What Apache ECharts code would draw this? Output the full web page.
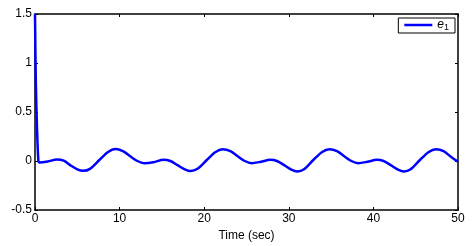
<!DOCTYPE html>
<html>
<head>
<meta charset="utf-8">
<script src="https://cdn.jsdelivr.net/npm/echarts@6/dist/echarts.min.js"></script>
<style>html,body{margin:0;padding:0;background:#fff}#c{width:472px;height:246px}</style>
</head>
<body>
<div id="c"></div>
<script>
var times = [0, 0.1, 0.25, 0.4, 0.5, 1.5, 2.6, 3.4, 4.2, 5.0, 5.7, 6.5, 7.6, 8.6, 9.5, 10.4, 11.3, 12.1, 12.9,
  14.0, 15.2, 16.0, 16.9, 17.7, 18.4, 19.2, 20.3, 21.3, 22.2, 23.1, 24.0, 24.8, 25.6,
  26.7, 27.8, 28.6, 29.5, 30.3, 31.0, 31.8, 32.9, 33.9, 34.8, 35.7, 36.6, 37.4, 38.2,
  39.3, 40.4, 41.2, 42.1, 42.9, 43.6, 44.4, 45.5, 46.5, 47.4, 48.3, 49.2, 50];
var e1 = [1.5, 0.8, 0.3, 0.0, -0.015, -0.005, 0.016, 0.003, -0.045, -0.085, -0.10, -0.08, 0.01, 0.09, 0.122, 0.1, 0.045, 0.0, -0.022,
  -0.012, 0.013, 0.0, -0.045, -0.085, -0.103, -0.08, 0.01, 0.09, 0.12, 0.1, 0.045, 0.0, -0.022,
  -0.008, 0.012, 0.0, -0.045, -0.088, -0.107, -0.085, 0.01, 0.09, 0.12, 0.1, 0.045, 0.0, -0.022,
  -0.008, 0.012, 0.0, -0.045, -0.088, -0.107, -0.085, 0.01, 0.09, 0.12, 0.1, 0.04, -0.008];
var xTicks = [0, 10, 20, 30, 40, 50];
var yTicks = [-0.5, 0, 0.5, 1, 1.5];
var seriesName = 'e1';

var font = 'Liberation Sans';
var chart = echarts.init(document.getElementById('c'), null, {renderer: 'canvas'});
var data = times.map(function (t, i) { return [t, e1[i]]; });
var axisLine = {show: true, onZero: false, lineStyle: {color: '#000', width: 1.5}};
var tick = {show: true, inside: true, length: 3, lineStyle: {color: '#000', width: 1}};
chart.setOption({
  animation: false,
  backgroundColor: '#fff',
  grid: {left: 35, right: 14, top: 14, bottom: 36, show: false, containLabel: false, outerBoundsMode: 'none'},
  legend: {
    data: [{name: seriesName, icon: 'rect'}],
    right: 17, top: 18,
    itemWidth: 28, itemHeight: 2.5, itemGap: 4,
    padding: [1, 6, 1, 6],
    borderColor: '#000', borderWidth: 1, borderRadius: 0,
    backgroundColor: '#fff',
    formatter: function () { return '{e|e}{s|1}'; },
    textStyle: {
      rich: {
        e: {fontFamily: font, fontStyle: 'italic', fontSize: 12, color: '#000'},
        s: {fontFamily: font, fontSize: 9, color: '#000', padding: [5, 0, 0, 0]}
      }
    }
  },
  xAxis: [{
    type: 'value', min: 0, max: 50, interval: 10,
    name: 'Time (sec)', nameLocation: 'middle', nameGap: 20,
    nameTextStyle: {fontFamily: font, fontSize: 12, color: '#000'},
    axisLine: axisLine, axisTick: tick,
    axisLabel: {fontFamily: font, fontSize: 12, color: '#000', margin: 3,
      formatter: function (v) { return xTicks.indexOf(v) >= 0 ? String(v) : ''; }},
    splitLine: {show: false}
  }, {
    type: 'value', min: 0, max: 50, interval: 10, position: 'top',
    axisLine: axisLine, axisTick: tick, axisLabel: {show: false}, splitLine: {show: false}
  }],
  yAxis: [{
    type: 'value', min: -0.5, max: 1.5, interval: 0.5,
    axisLine: axisLine, axisTick: tick,
    axisLabel: {fontFamily: font, fontSize: 12, color: '#000', margin: 3,
      formatter: function (v) { return yTicks.indexOf(v) >= 0 ? String(v) : ''; }},
    splitLine: {show: false}
  }, {
    type: 'value', min: -0.5, max: 1.5, interval: 0.5, position: 'right',
    axisLine: axisLine, axisTick: tick, axisLabel: {show: false}, splitLine: {show: false}
  }],
  series: [{
    name: seriesName, type: 'line', data: data,
    smooth: 0.3, showSymbol: false, symbol: 'none',
    lineStyle: {color: '#0000FF', width: 2.5},
    itemStyle: {color: '#0000FF'}
  }]
});
</script>
</body>
</html>
